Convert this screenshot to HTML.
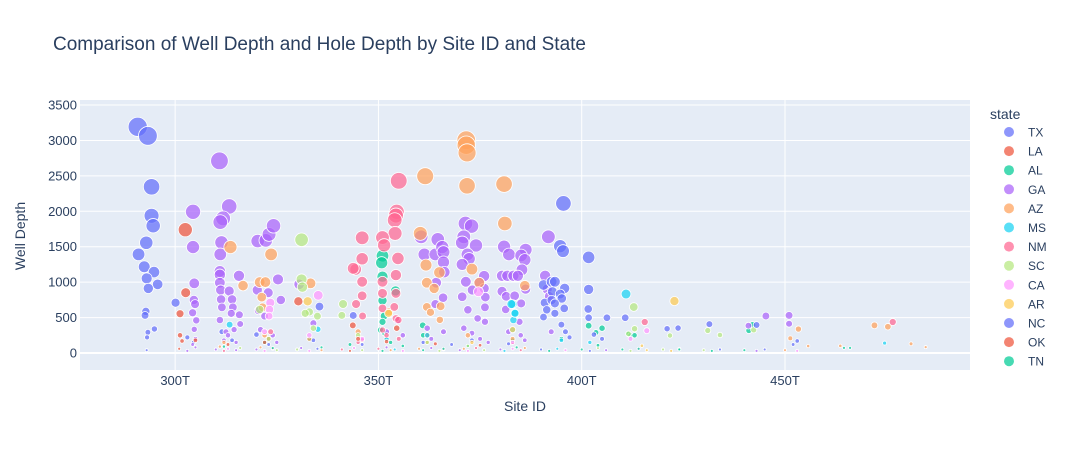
<!DOCTYPE html>
<html><head><meta charset="utf-8"><style>
body{margin:0;background:#fff;}
svg text{font-family:"Liberation Sans",Arial,sans-serif;fill:#2a3f5f;}
</style></head><body>
<svg id="chart" width="1066" height="450" viewBox="0 0 1066 450" xmlns="http://www.w3.org/2000/svg">
<rect x="0" y="0" width="1066" height="450" fill="#fff"/>
<text x="53" y="50" font-size="19">Comparison of Well Depth and Hole Depth by Site ID and State</text>
<rect x="80" y="100" width="890" height="270" fill="#e5ecf6"/>
<g id="grid"></g>
<g id="marks"></g>
<g id="axes"></g>
<text x="525" y="411" font-size="14" text-anchor="middle">Site ID</text>
<text x="0" y="0" font-size="14" text-anchor="middle" transform="translate(25,236) rotate(-90)">Well Depth</text>
<text x="990" y="119" font-size="14">state</text>
<g id="legend"></g>
</svg>
<script>
const states=["TX","LA","AL","GA","AZ","MS","NM","SC","CA","AR","NC","OK","TN"];
const colors=["#636efa","#EF553B","#00cc96","#ab63fa","#FFA15A","#19d3f3","#FF6692","#B6E880","#FF97FF","#FECB52","#636efa","#EF553B","#00cc96"];
const xTicks=[300,350,400,450];
const xTickLabels=["300T","350T","400T","450T"];
const yTicks=[0,500,1000,1500,2000,2500,3000,3500];

const TX_site=[290.8,293.3,294.2,294.2,294.6,292.9,291,292.4,294.8,293,295.7,293.4,292.8,292.6,293.3,294.9,293.1,300.1,303,304.5,311.5,314,320,323,334,335.5,343.8,346,352,361,368,373,382];
const TX_depth=[3192,3065,2346,1937,1796,1556,1392,1217,1142,1053,969,912,588,531,292,339,221,710,220,150,300,180,260,120,180,655,530,120,200,150,120,180,130];
const LA_site=[302.5,302.6,301.2,301.2,301.7,343.7,330.3,354.5,323,362,383];
const LA_depth=[1740,851,555,250,170,390,729,350,200,250,150];
const AL_site=[351,350.8,351,354.2,351,351.4,351,350.5,351.5,352,353,360.9,361,401.7,403.5,405,411.5,412,413,442,441.1,464.5,466,322,333,343,372,383,395];
const AL_depth=[1372,1274,1077,876,740,522,440,325,280,200,150,390,250,385,290,350,270,250,250,395,317,72,72,150,200,120,100,180,200];
const GA_site=[304.4,304.4,304.7,304.6,304.9,304.3,305.2,304.7,305,304.3,
310.9,313.3,311.8,311.1,311.4,311.1,311,311,311,311.2,311.3,311.5,311,313.3,314,314.2,313.8,315.7,315.8,316,314.5,312.5,313,312,315,
320.3,322.3,323.1,324.2,325.3,320.2,322.9,326,320.5,322,321,324,325,330.5,334,354.6,352,356,
360.5,364.6,361.3,364,365.7,366,366,366.2,364.2,365.9,364,362,366,363,
371.4,372.9,371,370.6,374,371.9,372.3,370.6,376,371.5,374.8,373.1,376,370.6,376.3,372,376.2,374.4,376.2,371,373,375,377,
380.9,382.1,386.2,385.1,386,385.3,380.4,381.7,383.2,384.3,386.2,380.4,381.4,383.5,385.1,381.3,384.7,382,385,386,
391.8,391,391.5,392,392.5,441,445.3,451,451];
const GA_depth=[1993,1495,983,748,690,568,461,334,200,120,
2712,2069,1900,1848,1561,1392,1152,1105,992,889,757,645,465,875,757,645,560,1090,540,409,330,300,250,180,150,
1580,1590,1674,1795,1039,889,851,748,600,520,330,250,150,970,420,460,300,250,
1640,1603,1391,1391,1495,1424,1283,1142,992,781,690,350,300,200,
1828,1791,1640,1556,1518,1391,1330,1250,1086,1006,992,889,912,794,789,610,645,488,441,350,280,200,150,
1500,1391,1457,1377,1316,1175,1090,1090,1090,1090,902,870,800,808,700,615,440,300,250,180,
1640,1090,900,800,300,386,522,531,413];
const AZ_site=[313.6,316.7,323.6,320.8,322.2,321.3,321.5,333.3,361.5,360.3,361.7,365,361.9,363.7,361.9,362.8,365.3,365.1,371.6,371.6,371.8,371.8,373,374.8,380.9,381.1,386,352.6,453.3,455.7,451.3,463.6,472,475.3,481,484.6,312,322,333,345,362,372,383];
const AZ_depth=[1495,951,1392,1000,1000,788,645,983,2496,1688,1241,1137,992,912,650,574,660,468,3004,2933,2825,2360,1184,992,2384,1828,950,580,338,98,207,101,390,371,130,83,150,250,200,300,150,250,200];
const MS_site=[313.4,335.1,383,383.5,383.2,383,410.9,474.5,382.7,383.6,352,362,402,395];
const MS_depth=[400,335,690,568,465,325,832,140,690,560,200,250,150,180];
const NM_site=[346,346,346,346,344.4,343.8,344.5,346.1,346,355,354.5,354.3,354,354.1,351,351.4,354.8,354.3,351,351,354.3,354.3,351,351,353.9,354.9,415.5,476.5,323.5,352,355,345];
const NM_depth=[1626,1330,1006,808,1180,1195,691,522,183,2430,1993,1940,1876,1688,1630,1520,1335,1100,1006,842,842,488,325,630,650,465,437,438,300,250,200,150];
const SC_site=[331.1,331.1,331.3,320.8,341.3,341,333,335,332,412.8,413,421.7,431,434,442.3,411.5,323,334,345,362,372];
const SC_depth=[1598,1039,930,615,691,531,580,520,560,649,343,247,317,254,327,270,200,350,250,150,100];
const CA_site=[323.4,323.2,323.1,335.2,374.6,416,322,333,346,383,412];
const CA_depth=[710,615,521,814,865,315,300,250,200,150,200];
const AR_site=[422.8,332.6,352.5,414.8,383,373];
const AR_depth=[733,729,560,103,330,150];
const NC_site=[395.5,394.7,395.4,401.7,390.6,392.6,393.4,395.8,392.8,394.7,395.1,390.9,392.6,393.4,395.7,391.4,393.4,390.6,395,401.7,401.6,401.7,406.2,410.7,421,423.7,431.4,443,453,396,397,403,405,452];
const NC_depth=[2111,1508,1438,1350,960,1006,1006,912,865,832,770,710,748,700,630,610,560,507,400,898,621,498,498,498,343,352,407,395,170,300,220,260,200,120];
const OK_site=[305,313,322,345,352,364,375];
const OK_depth=[180,120,150,200,160,130,110];
const TN_site=[312,324,336,356,366,384,404,414,424];
const TN_depth=[90,70,80,100,60,80,110,60,50];
const tinySite=[293,301,303,305,310,311,312,313,315,316,320,321,322,324,325,330,331,333,335,336,341,343,344,346,350,351,352,353,354,356,360,361,363,365,366,370,371,372,374,376,380,381,383,385,386,390,392,394,396,400,402,404,406,410,412,414,416,420,422,424,430,432,434,440,443,445,450,453];
const tinyDepth=[40,60,30,80,50,90,30,60,40,70,50,80,30,60,40,50,70,30,60,40,50,30,70,40,60,30,80,40,50,30,60,40,70,30,50,40,60,30,70,40,50,30,60,40,70,50,30,60,40,50,30,70,40,50,30,60,40,50,30,60,40,30,50,40,30,50,40,30];
const tinyState=[0,1,3,3,3,4,6,8,3,7,3,4,8,6,7,7,3,8,0,4,6,1,8,7,6,2,3,4,5,8,4,2,3,7,6,3,4,8,6,7,3,5,8,6,4,10,2,5,8,2,10,7,3,2,7,8,9,7,9,2,7,2,10,2,3,10,4,8];

const stateSites=[TX_site,LA_site,AL_site,GA_site,AZ_site,MS_site,NM_site,SC_site,CA_site,AR_site,NC_site,OK_site,TN_site];
const stateDepths=[TX_depth,LA_depth,AL_depth,GA_depth,AZ_depth,MS_depth,NM_depth,SC_depth,CA_depth,AR_depth,NC_depth,OK_depth,TN_depth];

const NS="http://www.w3.org/2000/svg";
const L=80,R=970,T=100,B=370;
const xMin=276.6,xMax=495.5,yMin=-240,yMax=3571;
function xs(v){return L+(v-xMin)/(xMax-xMin)*(R-L);}
function ys(v){return B-(v-yMin)/(yMax-yMin)*(B-T);}
function rad(d){return Math.max(1.5,9.6*Math.sqrt(Math.max(d,0)/3200));}
function mk(tag,attrs){const e=document.createElementNS(NS,tag);for(const k in attrs)e.setAttribute(k,attrs[k]);return e;}

const grid=document.getElementById('grid');
xTicks.forEach(function(t){
  const l=mk('line',{x1:xs(t),x2:xs(t),y1:T,y2:B,stroke:'#fff','stroke-width':1});
  
  
  grid.appendChild(l);
});
yTicks.forEach(function(t){
  const l=mk('line',{x1:L,x2:R,y1:ys(t),y2:ys(t),stroke:'#fff','stroke-width':t===0?2:1});
  
  
  grid.appendChild(l);
});
const axes=document.getElementById('axes');
xTicks.forEach(function(t,i){
  const tx=mk('text',{x:xs(t),y:385,'font-size':13,'text-anchor':'middle'});
  tx.textContent=xTickLabels[i];
  
  
  axes.appendChild(tx);
});
yTicks.forEach(function(t){
  const tx=mk('text',{x:77,y:ys(t)+4.5,'font-size':13,'text-anchor':'end'});
  tx.textContent=String(t);
  
  
  axes.appendChild(tx);
});

const marks=document.getElementById('marks');
function dot(site,depth,si){
  const c=mk('circle',{cx:xs(site),cy:ys(depth),r:rad(depth),fill:colors[si],'fill-opacity':0.72,stroke:'#fff','stroke-width':0.8});
  
  
  marks.appendChild(c);
}
tinySite.forEach(function(s,i){dot(s,tinyDepth[i],tinyState[i]);});
stateSites.forEach(function(arr,si){
  arr.forEach(function(s,i){dot(s,stateDepths[si][i],si);});
});

const legend=document.getElementById('legend');
states.forEach(function(s,i){
  const y=132+i*19.1;
  const c=mk('circle',{cx:1009,cy:y,r:5,fill:colors[i],'fill-opacity':0.72});
  
  
  legend.appendChild(c);
  const t=mk('text',{x:1028,y:y+4.5,'font-size':12});
  t.textContent=s;
  
  
  legend.appendChild(t);
});
</script>
</body></html>
